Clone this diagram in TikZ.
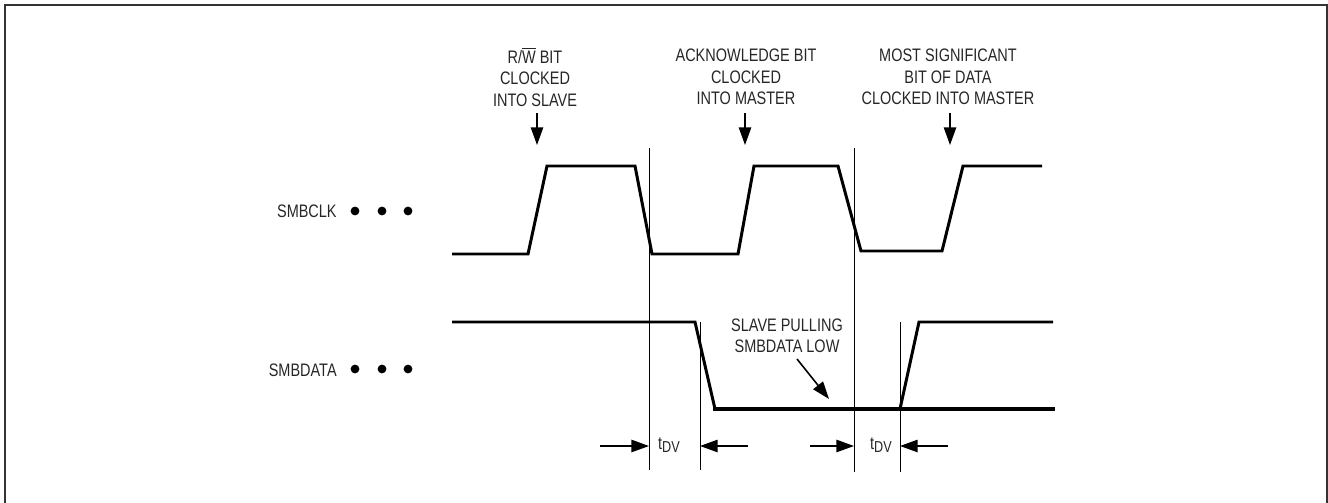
\documentclass[tikz,border=0pt]{standalone}
\usepackage{fontspec}
\setmainfont[FakeStretch=0.8]{Liberation Sans}
\usetikzlibrary{positioning}
\usetikzlibrary{arrows.meta}

\tikzset{
	wave/.style={line width=1.7pt, line join=miter},
	heavy/.style={line width=2.8pt},
	marker/.style={line width=0.5pt},
	pointer/.style={line width=0.9pt, -{Triangle[length=10pt, width=7pt]}},
	caption/.style={align=center, inner sep=0pt, text=black!85, font=\fontsize{10.3}{12.2}\selectfont},
	dot/.style={shape=circle, fill=black, inner sep=0pt, minimum size=5pt},
}
\newcommand{\tdv}{t\raisebox{-0.35ex}{\fontsize{9}{10}\selectfont DV}}

\begin{document}
\begin{tikzpicture}[x=0.02cm, y=-0.02cm]
				\useasboundingbox (0,0) rectangle (1328,503);
				% frame, open at the bottom
				\draw[line width=1.2pt, black!80] (5,503) -- (5,5) -- (1327,5) -- (1327,503);

				% signal names and dots
				\node[caption, anchor=east] (clk) at (337,211) {SMBCLK};
				\node[caption, anchor=east] (dat) at (337,370) {SMBDATA};
				\foreach \x [count=\i] in {355,382,408} {
					\node[dot] (clkdot\i) at (\x,211) {};
					\node[dot] (datdot\i) at (\x,369) {};
				}

				% clock
				\draw[wave] (452,254) -- (528,254) -- (547,166) -- (635,166) -- (652,254)
					-- (738,254) -- (754,166) -- (838,166) -- (861,251)
					-- (942,251) -- (963,166) -- (1042,166);

				% data
				\draw[wave] (452,322) -- (695,322) -- (715,409);
				\draw[heavy] (713,409) -- (1055,409);
				\draw[wave] (900,409) -- (919,322) -- (1053,322);

				% timing markers
				\node[shape=coordinate] (m1a) at (649,148) {};
				\node[shape=coordinate] (m1b) at (649,470) {};
				\node[shape=coordinate] (m2a) at (700,322) {};
				\node[shape=coordinate] (m2b) at (700,470) {};
				\node[shape=coordinate] (m3a) at (854,148) {};
				\node[shape=coordinate] (m3b) at (854,472) {};
				\node[shape=coordinate] (m4a) at (900,322) {};
				\node[shape=coordinate] (m4b) at (900,472) {};
				\draw[marker] (m1a) -- (m1b);
				\draw[marker] (m2a) -- (m2b);
				\draw[marker] (m3a) -- (m3b);
				\draw[marker] (m4a) -- (m4b);

				% t_DV
				\node[caption] (tdv1) at (669,445) {\tdv};
				\node[caption] (tdv2) at (881,445) {\tdv};
				\node[shape=coordinate] (a1) at (600,446) {};
				\node[shape=coordinate] (a2) at (748,446) {};
				\node[shape=coordinate] (a3) at (810,446) {};
				\node[shape=coordinate] (a4) at (948,446) {};
				\draw[pointer] (a1) -- (m1a |- a1);
				\draw[pointer] (a2) -- (m2a |- a2);
				\draw[pointer] (a3) -- (m3a |- a3);
				\draw[pointer] (a4) -- (m4a |- a4);

				% captions above the clock
				\node[caption] (rw) at (535,77) {R/$\overline{\hbox{W}}$ BIT\\CLOCKED\\INTO SLAVE};
				\node[caption] (ack) at (746,77) {ACKNOWLEDGE BIT\\CLOCKED\\INTO MASTER};
				\node[caption] (msb) at (948,77) {MOST SIGNIFICANT\\BIT OF DATA\\CLOCKED INTO MASTER};
				\node[shape=coordinate] (rwtip) at (537,145) {};
				\node[shape=coordinate] (acktip) at (745,145) {};
				\node[shape=coordinate] (msbtip) at (950,145) {};
				\draw[pointer] (rwtip |- 0,113) -- (rwtip);
				\draw[pointer] (acktip |- 0,113) -- (acktip);
				\draw[pointer] (msbtip |- 0,113) -- (msbtip);

				% slave pulling low
				\node[caption] (pull) at (787,336) {SLAVE PULLING\\SMBDATA LOW};
				\node[shape=coordinate] (pulltip) at (829,399) {};
				\draw[pointer] (797,359) -- (pulltip);
\end{tikzpicture}
\end{document}
